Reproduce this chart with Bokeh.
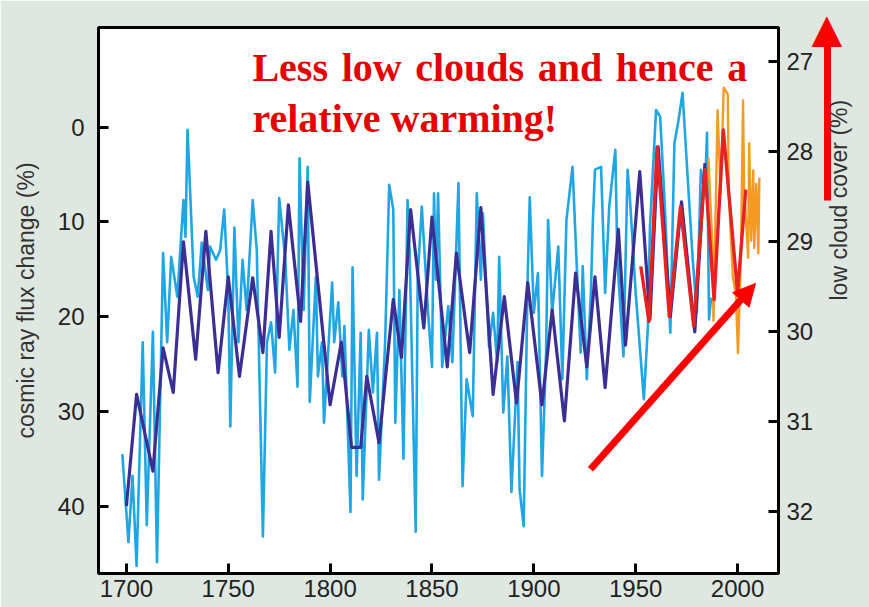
import math
from bokeh.plotting import figure
from bokeh.models import Range1d, LinearAxis, FixedTicker, Label, Arrow, NormalHead
from bokeh.embed import file_html
from bokeh.resources import INLINE

# ---------------- data ----------------
x_ticks = [1700, 1750, 1800, 1850, 1900, 1950, 2000]
cr_ticks = [0, 10, 20, 30, 40]
cloud_ticks = [27, 28, 29, 30, 31, 32]

# cosmic ray flux change (%), annual values
cr_years = [
    1698, 1701, 1703, 1705, 1708, 1710, 1713, 1715, 1718, 1720,
    1722, 1725, 1728, 1729, 1730, 1731, 1733, 1735, 1737, 1740,
    1741, 1744, 1746, 1748, 1750, 1751, 1753, 1755, 1757, 1759,
    1762, 1764, 1767, 1769, 1771, 1773, 1775, 1778, 1780, 1782,
    1784, 1785, 1787, 1789, 1790, 1793, 1794, 1796, 1797, 1801,
    1802, 1804, 1806, 1807, 1810, 1811, 1813, 1815, 1816, 1819,
    1821, 1823, 1824, 1827, 1829, 1831, 1832, 1834, 1836, 1838,
    1839, 1842, 1843, 1845, 1848, 1850, 1851, 1852, 1853, 1855,
    1858, 1860, 1863, 1865, 1867, 1870, 1872, 1874, 1875, 1878,
    1880, 1882, 1883, 1885, 1887, 1889, 1892, 1893, 1895, 1897,
    1898, 1900, 1902, 1904, 1906, 1907, 1909, 1912, 1914, 1916,
    1919, 1921, 1923, 1924, 1926, 1928, 1929, 1930, 1933, 1935,
    1937, 1940, 1941, 1944, 1946, 1947, 1950, 1954, 1956, 1957,
    1960, 1962, 1964, 1967, 1969, 1971, 1973, 1975, 1978, 1980,
    1982, 1984, 1985, 1986, 1987]
cr_annual = [
    34.5, 43.8, 36.8, 46.3, 22.7, 42.0, 21.6, 45.9, 13.3, 22.7,
    13.7, 17.9, 7.7, 11.6, 0.3, 5.3, 15.8, 17.9, 12.2, 17.2,
    12.6, 14.0, 13.0, 8.7, 17.5, 31.6, 10.6, 22.7, 14.0, 19.3,
    7.7, 13.0, 43.2, 22.7, 20.6, 25.9, 7.5, 14.0, 23.5, 19.3,
    27.4, 3.3, 19.3, 4.2, 29.0, 15.8, 26.3, 22.7, 31.2, 16.4,
    22.7, 18.5, 26.3, 21.0, 40.6, 14.8, 36.8, 21.7, 39.3, 21.4,
    28.0, 21.7, 37.2, 22.7, 6.1, 8.7, 31.2, 17.2, 35.0, 7.7,
    13.0, 42.7, 15.8, 8.4, 19.3, 25.3, 7.0, 16.1, 7.0, 25.3,
    18.9, 24.8, 5.9, 37.9, 26.6, 30.5, 7.0, 16.1, 9.1, 23.2,
    19.6, 24.8, 13.7, 30.1, 24.2, 38.5, 24.8, 38.2, 42.1, 15.4,
    7.4, 19.6, 15.4, 36.8, 23.8, 9.8, 19.6, 12.6, 26.6, 9.8,
    4.2, 14.3, 23.8, 14.7, 26.6, 17.5, 9.8, 4.5, 4.2, 17.5,
    8.4, 2.4, 14.0, 24.2, 4.5, 7.0, 17.5, 28.7, 21.0, 10.5,
    -1.8, -1.1, 7.0, 21.7, 1.7, -0.7, -3.6, 3.5, 14.0, 19.6,
    4.5, 7.0, 0.6, 20.3, 18.0]

# cosmic ray flux change (%), smoothed
smooth_years = [
    1700, 1705, 1713, 1718, 1723, 1728, 1734, 1739, 1745, 1750,
    1755.5, 1762, 1767, 1771, 1775, 1779.5, 1785.5, 1789, 1800, 1805.5,
    1810.5, 1815, 1818, 1824, 1831, 1835, 1839.5, 1846, 1850, 1857.5,
    1862, 1868.5, 1874, 1880, 1885.5, 1891.5, 1897, 1904, 1909, 1915,
    1920.5, 1926, 1930, 1935, 1941.5, 1945, 1952, 1957, 1961, 1967,
    1972.5, 1979, 1984]
cr_smooth = [
    40, 28.2, 36.3, 23.3, 28, 12.1, 24.5, 11, 25.9, 15.8,
    26.3, 15.9, 23.8, 11, 22.2, 8.2, 20.5, 5.8, 29.3, 22.7,
    33.8, 33.8, 26.3, 33.3, 18.2, 24.3, 8.7, 21.2, 9.5, 25.3,
    13.3, 23.8, 8.5, 28.2, 17.9, 29.1, 16.4, 29.3, 19.3, 31,
    15.4, 25.3, 15.8, 27.5, 10.8, 23, 4.7, 20.3, 2.1, 20,
    7.9, 21.6, 3.8]

# neutron monitor record (red), same left scale
red_years = [1952.5, 1956.5, 1960.5, 1966.5, 1972, 1978.5, 1984, 1988.5, 1993, 2000, 2004]
red_vals = [14.7, 20.5, 2.1, 20, 8.4, 21, 4.5, 18.2, 0.3, 17.5, 6.6]

# low cloud cover (%), right scale
cloud_years = [1985.7, 1987.7, 1988.2, 1990.2, 1991.7, 1993.2, 1995.2, 1995.7, 1997.7, 1999.2,
               2000.2, 2001.7, 2002.7, 2003.2, 2005.2, 2005.7, 2006.7, 2007.7, 2008.2, 2009.2,
               2010.2, 2010.7]
cloud_vals = [28.07, 29.07, 29.88, 27.54, 28.47, 27.29, 27.36, 28.47, 29.4, 29.58,
              30.24, 29.12, 27.43, 28.4, 29.18, 27.91, 28.99, 28.21, 29.07, 28.36,
              29.13, 28.29]

# headline words (first line is spread out, as in the reference)
line1_words = ["Less", "low", "clouds", "and", "hence", "a"]
line1_x = [1761.86, 1805.65, 1841.78, 1901.92, 1940.26, 1994.94]
line2_text = "relative warming!"

# ---------------- figure ----------------
BG = "#dfe7e1"
p = figure(width=869, height=607, output_backend="svg", toolbar_location=None,
           x_range=Range1d(1686.3, 2020.1), y_range=Range1d(47.1, -10.5),
           min_border_left=98, min_border_right=91, min_border_top=27, min_border_bottom=34,
           border_fill_color=BG, background_fill_color="white",
           outline_line_color="black", outline_line_width=3)
p.extra_y_ranges = {"cloud": Range1d(32.69, 26.62)}
p.grid.visible = False


def style_axis(ax, ticks, size, standoff):
    ax.ticker = FixedTicker(ticks=ticks)
    ax.axis_line_color = None
    ax.major_tick_in = 10
    ax.major_tick_out = 0
    ax.major_tick_line_width = 3
    ax.major_tick_line_color = "black"
    ax.minor_tick_line_color = None
    ax.major_label_text_font = "Liberation Sans"
    ax.major_label_text_font_size = size
    ax.major_label_text_color = "#222222"
    ax.major_label_standoff = standoff
    ax.axis_label_text_font = "Liberation Sans"
    ax.axis_label_text_font_size = "23px"
    ax.axis_label_text_font_style = "normal"
    ax.axis_label_text_color = "#333333"


style_axis(p.xaxis[0], x_ticks, "24px", 6)
style_axis(p.yaxis[0], cr_ticks, "24px", 14)
p.yaxis[0].axis_label = "cosmic ray flux change (%)"
p.yaxis[0].axis_label_standoff = 16

# right side: cloud cover scale
right_axis = LinearAxis(y_range_name="cloud")
style_axis(right_axis, cloud_ticks, "24px", 8)
p.add_layout(right_axis, "right")

# right side: a spacer (label painted in the background colour) so the arrow sits further out
gap_axis = LinearAxis(ticker=FixedTicker(ticks=[20]), axis_line_color=None,
                      major_tick_out=0, major_tick_in=0, major_tick_line_color=None,
                      minor_tick_line_color=None, major_label_standoff=0,
                      major_label_overrides={20: "0"},
                      major_label_text_font="Liberation Sans",
                      major_label_text_font_size="14px", major_label_text_color=BG)
p.add_layout(gap_axis, "right")

# right side: red upward arrow (axis rule as shaft, a label as head) + the axis title
head_at = -10.4
arrow_axis = LinearAxis(ticker=FixedTicker(ticks=[head_at]), bounds=(-10.5, 7.7),
                        axis_line_color="#ff0000", axis_line_width=7,
                        major_tick_out=0, major_tick_in=0, major_tick_line_color=None,
                        minor_tick_line_color=None,
                        major_label_overrides={head_at: "\u25b2"},
                        major_label_text_color="#ff0000",
                        major_label_text_font="DejaVu Sans",
                        major_label_text_font_size="40px",
                        major_label_standoff=-16,
                        axis_label="low cloud cover (%)",
                        axis_label_text_font="Liberation Sans",
                        axis_label_text_font_size="23px",
                        axis_label_text_font_style="normal",
                        axis_label_text_color="#333333",
                        axis_label_standoff=-6)
if "axis_label_orientation" in arrow_axis.properties():
    arrow_axis.axis_label_orientation = math.pi / 2
p.add_layout(arrow_axis, "right")

# ---------------- series ----------------
p.line(cr_years, cr_annual, line_color="#1fa6e3", line_width=2.6, line_join="round")
p.line(smooth_years, cr_smooth, line_color="#3b2f94", line_width=3.2, line_join="round")
p.line(cloud_years, cloud_vals, y_range_name="cloud", line_color="#f59a23", line_width=2.4, line_join="round")
p.line(red_years, red_vals, line_color="#e62222", line_width=3.4, line_join="round")

# ---------------- annotations ----------------
def headline(txt, xx, yy):
    p.add_layout(Label(x=xx, y=yy, text=txt, text_font="Liberation Serif",
                       text_font_style="bold", text_font_size="40px", text_color="#e60000",
                       text_baseline="alphabetic", text_align="left"))

for w, xx in zip(line1_words, line1_x):
    headline(w, xx, -6.3)
headline(line2_text, line1_x[0], -0.95)

p.add_layout(Arrow(end=NormalHead(size=22, fill_color="#ff0000", line_color="#ff0000"),
                   x_start=1927.8, y_start=36.1, x_end=2008.8, y_end=16.5,
                   line_color="#ff0000", line_width=7))

open("out.html", "w").write(file_html(p, INLINE))
